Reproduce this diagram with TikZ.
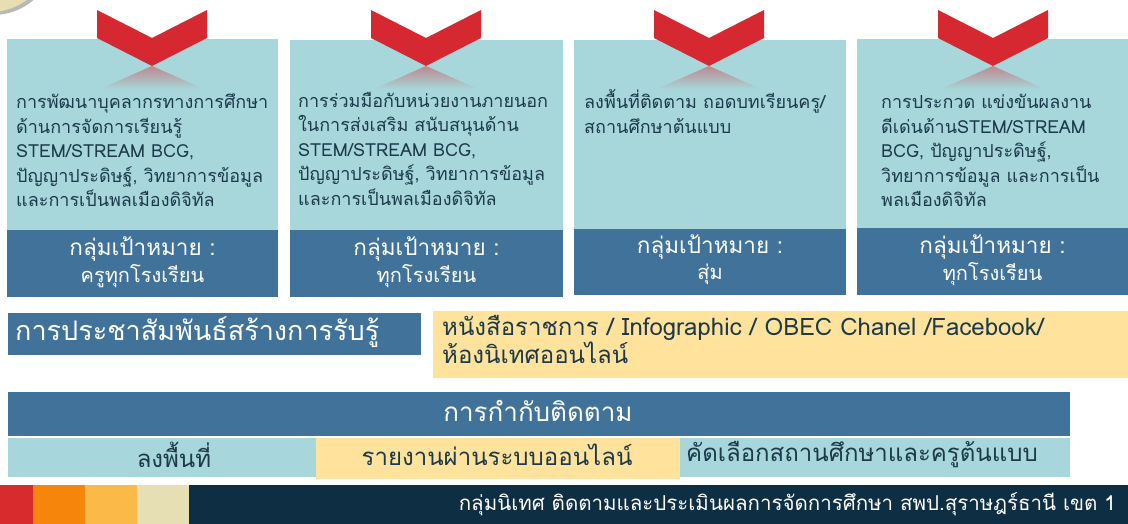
\documentclass[tikz,border=0pt]{standalone}
\usepackage{fontspec}
\setmainfont{Loma}[Script=Thai]
\usepackage{xcolor}
\usetikzlibrary{positioning, calc}

\definecolor{boxteal}{HTML}{A7D7DA}
\definecolor{bandblue}{HTML}{41739A}
\definecolor{chevred}{HTML}{D62830}
\definecolor{noteyellow}{HTML}{FFE39C}
\definecolor{inknavy}{HTML}{1C3A4C}
\definecolor{footnavy}{HTML}{0E2E43}
\definecolor{stripred}{HTML}{D72B2E}
\definecolor{stripor}{HTML}{F6850C}
\definecolor{stripgold}{HTML}{FBBA47}
\definecolor{stripcream}{HTML}{E7DFB4}
\definecolor{badgebeige}{HTML}{E9DEB2}

\begin{document}
\begin{tikzpicture}[x=1pt,y=-1pt,
  bodytext/.style={anchor=base west, inner sep=0pt, align=left, text=inknavy,
    font=\fontsize{18}{24.5}\selectfont},
  bandhead/.style={inner sep=0pt, text=white, font=\fontsize{22.5}{26}\selectfont},
  bandsub/.style={inner sep=0pt, text=white, font=\fontsize{20}{24}\selectfont},
  celltext/.style={inner sep=0pt, text=inknavy, font=\fontsize{24}{28}\selectfont}]
\useasboundingbox (0,0) rectangle (1128,524);
\clip (0,0) rectangle (1128,524);

% badge in the corner
\fill[gray!70, opacity=0.8] (-7,-47) circle (62);
\fill[badgebeige] (-10,-50) circle (62);

% four panels
\fill[boxteal] (7,39) rectangle (278,230);
\fill[bandblue] (7,230) rectangle (278,297);
\fill[boxteal] (290,40) rectangle (563,230);
\fill[bandblue] (290,230) rectangle (563,297);
\fill[boxteal] (574,40) rectangle (846,229);
\fill[bandblue] (574,229) rectangle (846,295);
\fill[boxteal] (857,39) rectangle (1128,228);
\fill[bandblue] (857,228) rectangle (1128,295);

% red chevrons with their faded reflection
\foreach \c in {152,426,709,993} {
  \shade[top color=chevred!45!boxteal, bottom color=boxteal]
    (\c,66) -- (\c+52,89) -- (\c-52,89) -- cycle;
  \fill[chevred] (\c-55,10) -- (\c,38) -- (\c+55,10) -- (\c+55,38)
    -- (\c,66) -- (\c-55,38) -- cycle;
}

% panel texts (anchored at the last baseline)
\node[bodytext] (dev) at (16,207) {การพัฒนาบุคลากรทางการศึกษา\\ด้านการจัดการเรียนรู้\\STEM/STREAM BCG,\\ปัญญาประดิษฐ์, วิทยาการข้อมูล\\และการเป็นพลเมืองดิจิทัล};
\node[bodytext] (coop) at (298,205) {การร่วมมือกับหน่วยงานภายนอก\\ในการส่งเสริม สนับสนุนด้าน\\STEM/STREAM BCG,\\ปัญญาประดิษฐ์, วิทยาการข้อมูล\\และการเป็นพลเมืองดิจิทัล};
\node[bodytext] (visit) at (584,133.5) {ลงพื้นที่ติดตาม ถอดบทเรียนครู/\\สถานศึกษาต้นแบบ};
\node[bodytext] (contest) at (881,207) {การประกวด แข่งขันผลงาน\\ดีเด่นด้านSTEM/STREAM\\BCG, ปัญญาประดิษฐ์,\\วิทยาการข้อมูล และการเป็น\\พลเมืองดิจิทัล};

% target groups
\node[bandhead] (headA) at (142.5,249) {กลุ่มเป้าหมาย :};
\node[bandsub] (subA) at (142.5,276) {ครูทุกโรงเรียน};
\node[bandhead] (headB) at (426.5,249) {กลุ่มเป้าหมาย :};
\node[bandsub] (subB) at (426.5,276) {ทุกโรงเรียน};
\node[bandhead] (headC) at (710,247) {กลุ่มเป้าหมาย :};
\node[bandsub] (subC) at (710,274) {สุ่ม};
\node[bandhead] (headD) at (992.5,247) {กลุ่มเป้าหมาย :};
\node[bandsub] (subD) at (992.5,274) {ทุกโรงเรียน};

% public relations row
\fill[bandblue] (8,313) rectangle (421,355);
\node[anchor=west, inner sep=0pt, text=white, font=\fontsize{27}{30}\selectfont] (pr) at (15,332) {การประชาสัมพันธ์สร้างการรับรู้};
\fill[noteyellow] (433,311) rectangle (1128,378);
\node[anchor=base west, inner sep=0pt, align=left, text=inknavy,
  font=\fontsize{24}{28}\selectfont] (media) at (442,363) {หนังสือราชการ / Infographic / OBEC Chanel /Facebook/\\ห้องนิเทศออนไลน์};

% monitoring row
\fill[bandblue] (8,392) rectangle (1070,436);
\node[inner sep=0pt, text=white, font=\fontsize{26}{30}\selectfont] (monitor) at (538,411) {การกำกับติดตาม};
\fill[boxteal] (8,438) rectangle (316,477);
\fill[noteyellow] (316,438) rectangle (680,479);
\fill[boxteal] (680,438) rectangle (1070,477);
\node[celltext] (field) at (174,455) {ลงพื้นที่};
\node[celltext] (online) at (497,455) {รายงานผ่านระบบออนไลน์};
\node[celltext] (select) at (862,455) {คัดเลือกสถานศึกษาและครูต้นแบบ};

% footer
\fill[stripred] (0,485) rectangle (33,524);
\fill[stripor] (33,485) rectangle (85,524);
\fill[stripgold] (85,485) rectangle (137,524);
\fill[stripcream] (137,485) rectangle (189,524);
\fill[footnavy] (189,485) rectangle (1128,524);
\node[anchor=east, inner sep=0pt, text=white, font=\fontsize{20.5}{24}\selectfont] (footer) at (1116,504) {กลุ่มนิเทศ ติดตามและประเมินผลการจัดการศึกษา สพป.สุราษฎร์ธานี เขต 1};
\end{tikzpicture}
\end{document}
